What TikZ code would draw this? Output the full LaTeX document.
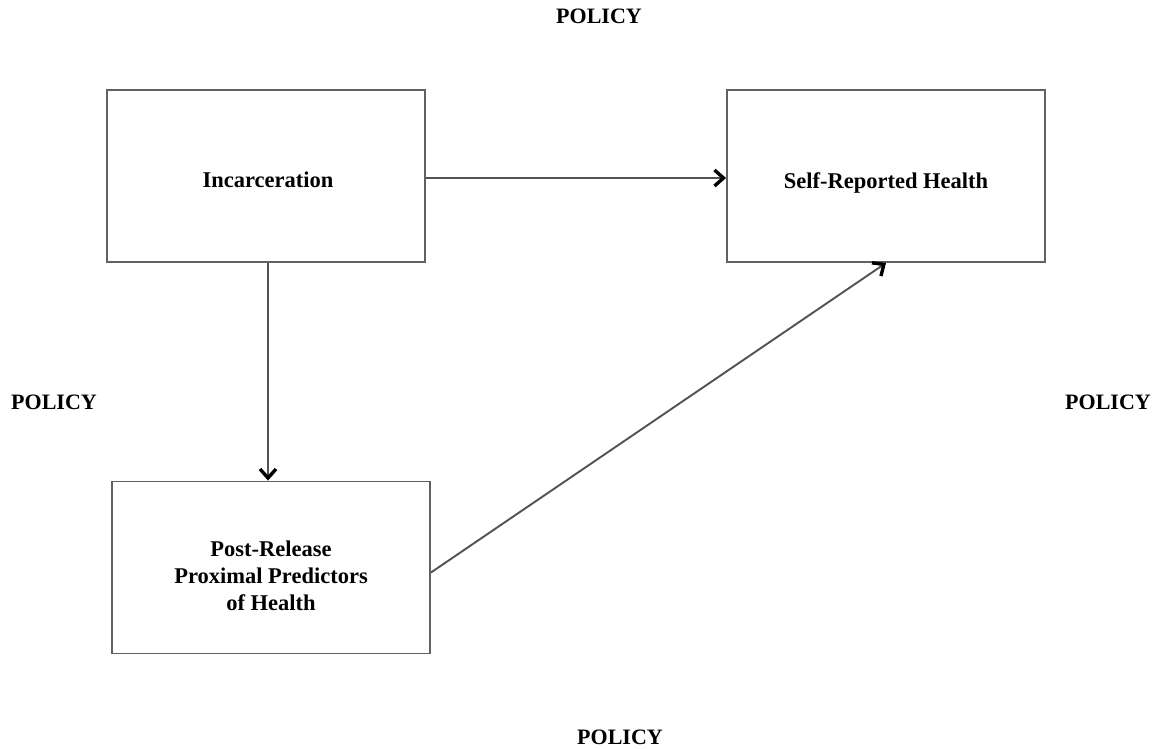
\documentclass[tikz,border=0pt]{standalone}
\usepackage{fontspec}
\setmainfont{Liberation Serif}
\usepackage{tikz}
\usetikzlibrary{positioning}
\usetikzlibrary{arrows.meta}

\tikzset{
    factor/.style={draw=black!62, line width=1.9pt, minimum width=318pt, minimum height=172pt,
        inner sep=0pt},
    caption/.style={align=center, font=\bfseries\fontsize{22.5}{27}\selectfont},
    policy/.style={font=\bfseries\fontsize{22}{26}\selectfont},
    flow/.style={draw=black!68, line width=1.9pt,
        -{Straight Barb[length=9pt,width=16pt,line width=3.4pt,color=black]}}
}

\begin{document}
\begin{tikzpicture}[x=1pt,y=-1pt]
    \useasboundingbox (0,0) rectangle (1161,748);

    \node(inc)  [factor, label={[caption,yshift=-4pt,xshift=2pt]center:Incarceration}] at (266,176) {};
    \node(srh)  [factor, label={[caption,yshift=-7pt]center:Self-Reported Health}] at (886,176) {};
    \node(post) [factor, label={[caption,yshift=-8pt]center:Post-Release\\Proximal Predictors\\of Health}] at (271,567.5) {};

    \node(ptop)    [policy] at (599,16)  {POLICY};
    \node(pleft)   [policy] at (54,402)  {POLICY};
    \node(pright)  [policy] at (1108,402) {POLICY};
    \node(pbottom) [policy] at (620,737) {POLICY};

    \draw[flow] (inc.east) ++(0,2) coordinate (h) -- (h -| srh.west);
    \draw[flow] (inc.south) ++(2,0) coordinate (v) -- (v |- post.north);
    \draw[flow] (post.east) ++(0,5) -- (srh.south);
\end{tikzpicture}
\end{document}
